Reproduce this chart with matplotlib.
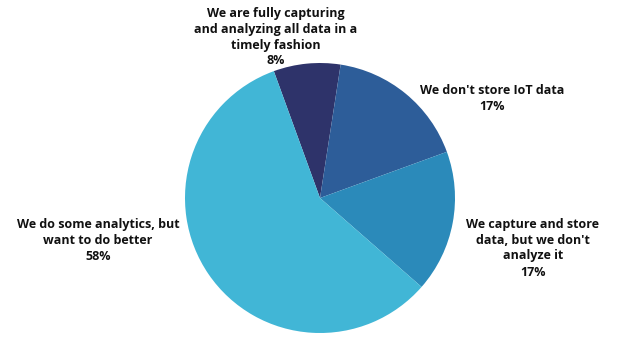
import matplotlib.pyplot as plt

# 資料
labels = [
    "We are fully capturing\nand analyzing all data in a\ntimely fashion",
    "We don't store IoT data",
    "We capture and store\ndata, but we don't\nanalyze it",
    "We do some analytics, but\nwant to do better",
]
shares = [8, 17, 17, 58]
colors = ['#2e336a', '#2d5d99', '#2b8aba', '#41b6d6']

# 標籤位置 (像素, 以左上為原點)
label_px = [(276, 37), (492, 99), (533, 248), (98, 240)]

plt.rcParams['font.family'] = ['Open Sans', 'DejaVu Sans']
fig = plt.figure(figsize=(6.4, 3.6), dpi=100)
ax = fig.add_axes([0, 0, 1, 1])

cx, cy, r = 320, 198, 135
ax.pie(shares, colors=colors, startangle=110, counterclock=False,
       radius=1, center=(0, 0), wedgeprops=dict(linewidth=0))
ax.set_xlim(-cx / r, (640 - cx) / r)
ax.set_ylim(-(360 - cy) / r, cy / r)
ax.set_aspect('equal')
ax.axis('off')

for lab, val, (px, py) in zip(labels, shares, label_px):
    x = (px - cx) / r
    y = (cy - py) / r
    ax.text(x, y, f"{lab}\n{val}%", ha='center', va='center',
            fontsize=9, fontweight='bold', color='#111111', linespacing=1.3)

plt.savefig('out.png', dpi=100)
